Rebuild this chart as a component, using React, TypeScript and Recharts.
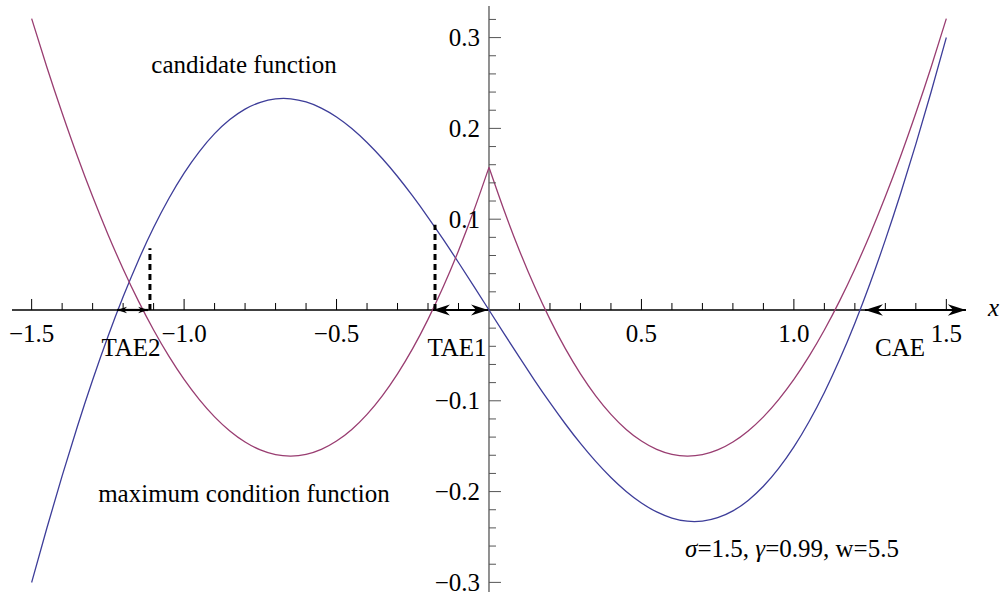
import { LineChart, Line, XAxis, YAxis, ReferenceLine, ReferenceDot } from 'recharts'

// sample points along x
const xValues = [
  -1.5, -1.45, -1.4, -1.35, -1.3, -1.25, -1.2, -1.15, -1.1, -1.05,
  -1.0, -0.95, -0.9, -0.85, -0.8, -0.75, -0.7, -0.65, -0.6, -0.55,
  -0.5, -0.45, -0.4, -0.35, -0.3, -0.25, -0.2, -0.15, -0.1, -0.05,
  0,
  0.05, 0.1, 0.15, 0.2, 0.25, 0.3, 0.35, 0.4, 0.45, 0.5,
  0.55, 0.6, 0.65, 0.7, 0.75, 0.8, 0.85, 0.9, 0.95, 1.0,
  1.05, 1.1, 1.15, 1.2, 1.25, 1.3, 1.35, 1.4, 1.45, 1.5,
]

// candidate function (blue)
const candidate = [
  -0.3001, -0.2401, -0.1827, -0.1283, -0.0772, -0.0295, 0.0145, 0.0546, 0.0908, 0.1228,
  0.1508, 0.1745, 0.1942, 0.2097, 0.2212, 0.2287, 0.2325, 0.2326, 0.2291, 0.2224,
  0.2126, 0.1999, 0.1845, 0.1668, 0.147, 0.1253, 0.1021, 0.0777, 0.0523, 0.0263,
  0,
  -0.0263, -0.0523, -0.0777, -0.1021, -0.1253, -0.147, -0.1668, -0.1845, -0.1999, -0.2126,
  -0.2224, -0.2291, -0.2326, -0.2325, -0.2287, -0.2212, -0.2097, -0.1942, -0.1745, -0.1508,
  -0.1228, -0.0908, -0.0546, -0.0145, 0.0295, 0.0772, 0.1283, 0.1827, 0.2401, 0.3001,
]

// maximum condition function (red), cusp at x = 0
const maxCondition = [
  0.3209, 0.2674, 0.217, 0.1694, 0.1249, 0.0835, 0.0452, 0.01, -0.0221, -0.0509,
  -0.0765, -0.0987, -0.1177, -0.1332, -0.1454, -0.1541, -0.1593, -0.1609, -0.159, -0.1535,
  -0.1443, -0.1315, -0.1149, -0.0945, -0.0703, -0.0423, -0.0103, 0.0255, 0.0653, 0.1092,
  0.1571,
  0.1092, 0.0653, 0.0255, -0.0103, -0.0423, -0.0703, -0.0945, -0.1149, -0.1315, -0.1443,
  -0.1535, -0.159, -0.1609, -0.1593, -0.1541, -0.1454, -0.1332, -0.1177, -0.0987, -0.0765,
  -0.0509, -0.0221, 0.01, 0.0452, 0.0835, 0.1249, 0.1694, 0.217, 0.2674, 0.3209,
]

const xTickLabels = ['−1.5', '−1.0', '−0.5', '0.5', '1.0', '1.5']
const xTickValues = [-1.5, -1.0, -0.5, 0.5, 1.0, 1.5]
const yTickLabels = ['0.3', '0.2', '0.1', '−0.1', '−0.2', '−0.3']
const yTickValues = [0.3, 0.2, 0.1, -0.1, -0.2, -0.3]

// red is split at the cusp so each half can be smoothed on its own
const data = xValues.map((x, i) => ({
  x,
  candidate: candidate[i],
  maxLeft: x <= 0 ? maxCondition[i] : null,
  maxRight: x >= 0 ? maxCondition[i] : null,
}))

const FONT = '"Liberation Serif", "Times New Roman", serif'
const BLUE = '#3d3d99'
const RED = '#993d71'

// minor ticks every 0.1 on x, every 0.02 on y
const xMinor: number[] = []
for (let i = -15; i <= 15; i++) if (i !== 0) xMinor.push(i / 10)
const yMinor: number[] = []
for (let i = -15; i <= 16; i++) if (i !== 0) yMinor.push(i / 50)

const arrowShape = (head: number) => (p: any) => {
  const { x1, y1, x2, y2 } = p
  const ang = Math.atan2(y2 - y1, x2 - x1)
  const hw = head * 0.32
  const headAt = (tx: number, ty: number, a: number) => {
    const c = Math.cos(a), s = Math.sin(a)
    const pt = (u: number, v: number) => `${tx + u * c - v * s},${ty + u * s + v * c}`
    return pt(0, 0) + ' ' + pt(-head, -hw) + ' ' + pt(-head * 0.7, 0) + ' ' + pt(-head, hw)
  }
  return (
    <g>
      <line x1={x1} y1={y1} x2={x2} y2={y2} stroke="#000" strokeWidth={2.2} />
      <polygon points={headAt(x2, y2, ang)} fill="#000" />
      <polygon points={headAt(x1, y1, ang + Math.PI)} fill="#000" />
    </g>
  )
}

const textDot = (x: number, y: number, content: any, anchor: string, key: string, italic = false) => (
  <ReferenceDot
    key={key}
    x={x}
    y={y}
    r={1}
    shape={(p: any) => (
      <text x={p.cx} y={p.cy} textAnchor={anchor} fontFamily={FONT} fontSize={25} fill="#000" fontStyle={italic ? 'italic' : 'normal'}>
        {content}
      </text>
    )}
  />
)

export default function App() {
  return (
    <div style={{ position: 'absolute', left: 0, top: 0, background: '#fff', pointerEvents: 'none' }}>
      <LineChart width={1001} height={597} data={data} margin={{ top: 0, right: 0, bottom: 0, left: 0 }}>
        <XAxis dataKey="x" type="number" domain={[-1.6038, 1.6793]} allowDataOverflow hide />
        <YAxis type="number" domain={[-0.3161, 0.3414]} allowDataOverflow hide />

        {/* axes */}
        <ReferenceLine segment={[{ x: -1.5645, y: 0 }, { x: 1.5645, y: 0 }]} stroke="#000" strokeWidth={1.3} />
        <ReferenceLine segment={[{ x: 0, y: -0.3106 }, { x: 0, y: 0.3348 }]} stroke="#555" strokeWidth={1.3} />

        {xMinor.map((t, i) => (
          <ReferenceDot
            key={'xt' + i}
            x={t}
            y={0}
            r={1}
            shape={(p: any) => (
              <line x1={p.cx} y1={p.cy} x2={p.cx} y2={p.cy - (Math.round(t * 10) % 5 === 0 ? 11 : 7)} stroke="#000" strokeWidth={1} />
            )}
          />
        ))}
        {yMinor.map((t, i) => (
          <ReferenceDot
            key={'yt' + i}
            x={0}
            y={t}
            r={1}
            shape={(p: any) => (
              <line x1={p.cx} y1={p.cy} x2={p.cx + (Math.round(t * 50) % 5 === 0 ? 12 : 7)} y2={p.cy} stroke="#555" strokeWidth={1} />
            )}
          />
        ))}
        {xTickValues.map((t, i) => (
          <ReferenceDot
            key={'xl' + i}
            x={t}
            y={0}
            r={1}
            shape={(p: any) => (
              <text x={p.cx} y={p.cy + 32} textAnchor="middle" fontFamily={FONT} fontSize={25} fill="#000">
                {xTickLabels[i]}
              </text>
            )}
          />
        ))}
        {yTickValues.map((t, i) => (
          <ReferenceDot
            key={'yl' + i}
            x={0}
            y={t}
            r={1}
            shape={(p: any) => (
              <text x={p.cx - 9} y={p.cy + 8.5} textAnchor="end" fontFamily={FONT} fontSize={25} fill="#000">
                {yTickLabels[i]}
              </text>
            )}
          />
        ))}

        <Line type="natural" dataKey="candidate" stroke={BLUE} strokeWidth={1.3} dot={false} activeDot={false} isAnimationActive={false} />
        <Line type="natural" dataKey="maxLeft" stroke={RED} strokeWidth={1.3} dot={false} activeDot={false} isAnimationActive={false} />
        <Line type="natural" dataKey="maxRight" stroke={RED} strokeWidth={1.3} dot={false} activeDot={false} isAnimationActive={false} />

        {/* dotted markers */}
        <ReferenceLine segment={[{ x: -1.112, y: 0 }, { x: -1.112, y: 0.068 }]} stroke="#000" strokeWidth={3} strokeDasharray="6 4" />
        <ReferenceLine segment={[{ x: -0.177, y: 0 }, { x: -0.177, y: 0.094 }]} stroke="#000" strokeWidth={3} strokeDasharray="6 4" />

        {/* arrows */}
        <ReferenceLine segment={[{ x: -1.22, y: 0 }, { x: -1.118, y: 0 }]} shape={arrowShape(10)} />
        <ReferenceLine segment={[{ x: -0.184, y: 0 }, { x: -0.003, y: 0 }]} shape={arrowShape(17)} />
        <ReferenceLine segment={[{ x: 1.233, y: 0 }, { x: 1.564, y: 0 }]} shape={arrowShape(18)} />

        {textDot(-1.174, -0.0507, 'TAE2', 'middle', 'tae2')}
        {textDot(-0.105, -0.0507, 'TAE1', 'middle', 'tae1')}
        {textDot(1.348, -0.0507, 'CAE', 'middle', 'cae')}
        {textDot(1.6366, -0.0066, 'x', 'start', 'xl', true)}
        {textDot(-0.8035, 0.261, 'candidate function', 'middle', 'cf')}
        {textDot(-0.8035, -0.2115, 'maximum condition function', 'middle', 'mcf')}
        {textDot(
          0.9938,
          -0.272,
          <>
            <tspan fontStyle="italic">σ</tspan>=1.5, <tspan fontStyle="italic">γ</tspan>=0.99, w=5.5
          </>,
          'middle',
          'params'
        )}
      </LineChart>
    </div>
  )
}
